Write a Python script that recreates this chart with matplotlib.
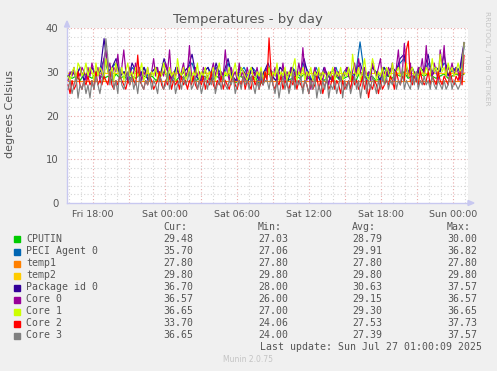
import numpy as np
import matplotlib
matplotlib.use("Agg")
import matplotlib.pyplot as plt

# ---- data (hours since Fri 00:00) ----
T_FIRST, T_LAST = 15.92, 48.92

cputin = [29.0, 28.5, 29.0, 28.0, 29.5, 29.0, 28.5, 30.0, 29.0, 28.5,
          29.0, 28.0, 29.5, 28.5, 29.0, 28.0, 29.0, 28.5, 29.5, 29.0,
          28.5, 29.0, 28.0, 29.0, 30.0, 28.5, 29.0, 28.0, 29.0, 28.5,
          29.5, 29.0, 28.0, 28.5, 29.0, 28.5, 28.0, 29.0, 28.5, 29.0,
          29.5, 28.5, 27.5, 29.0, 28.5, 28.0, 29.0, 28.5, 27.0, 28.5,
          29.5, 29.0, 28.0, 28.5, 29.0, 28.0, 28.5, 29.0, 28.5, 29.5,
          28.5, 28.0, 29.0, 28.5, 28.0, 29.0, 28.5, 29.0, 28.0, 28.5,
          29.0, 28.5, 28.0, 30.0, 29.0, 28.5, 29.0, 28.0, 28.5, 29.0,
          29.0, 28.5, 29.5, 29.0, 30.0, 28.5, 29.0, 28.5, 29.5, 29.0,
          29.5, 29.0, 28.5, 29.0, 29.5, 28.5, 29.0, 29.5, 29.0, 29.48]
peci = [29, 30, 29, 31, 28, 30, 31, 29, 30, 33,
        30, 31, 32, 29, 30, 28, 31, 30, 29, 31,
        29, 30, 31, 29, 32, 30, 28, 31, 29, 30,
        31, 32, 29, 28, 30, 31, 29, 31, 30, 29,
        32, 29, 28, 30, 31, 29, 31, 30, 27.06, 30,
        31, 30, 29, 31, 30, 29, 31, 30, 29, 32,
        30, 28, 31, 29, 30, 29, 30, 31, 28, 30,
        31, 29, 30, 36.82, 30, 29, 31, 30, 29, 31,
        30, 31, 30, 32, 33, 30, 31, 29, 31, 30,
        32, 30, 31, 30, 32, 31, 30, 31, 30, 35.7]
temp1 = [27.8, 27.8]
temp2 = [29.8, 29.8]
package = [29, 30, 29, 31, 28, 30, 31, 29, 30, 37.57,
           30, 31, 33, 29, 30, 28, 32, 30, 29, 31,
           28, 30, 31, 29, 33, 30, 28, 31, 29, 30,
           31, 34, 29, 28, 30, 31, 28, 32, 29, 30,
           33, 29, 28, 31, 30, 28, 31, 29, 28, 30,
           32, 29, 28, 31, 30, 28, 31, 29, 30, 33,
           29, 28, 30, 28, 31, 29, 28, 30, 28, 29,
           31, 28, 30, 32, 29, 28, 31, 30, 28, 31,
           29, 31, 30, 33, 34, 29, 31, 28, 31, 30,
           34, 29, 31, 30, 34, 29, 31, 30, 31, 36.7]
core0 = [28, 30, 29, 31, 28, 30, 29, 31, 30, 28, 31, 29, 32, 30, 29, 31, 28, 30, 33, 35,
         30, 32, 29, 31, 30, 34, 29, 31, 35, 30, 28, 31, 29, 30, 32, 29, 31, 28, 30, 29,
         31, 28, 30, 33, 29, 31, 28, 30, 29, 32, 30, 35, 28, 30, 29, 31, 28, 30, 32, 29,
         30, 36, 29, 28, 31, 29, 30, 28, 31, 30, 29, 28, 30, 32, 29, 31, 28, 30, 29, 35,
         30, 28, 31, 29, 30, 28, 32, 29, 30, 28, 31, 29, 28, 30, 29, 31, 28, 30, 27, 29,
         31, 30, 28, 29, 31, 28, 30, 29, 32, 28, 30, 29, 31, 28, 30, 29, 32, 29, 35.5, 30,
         28, 30, 26, 29, 31, 28, 30, 29, 28, 31, 29, 27, 30, 28, 31, 29, 30, 28, 29, 30,
         31, 29, 28, 30, 32, 29, 33, 30, 28, 31, 29, 30, 28, 32, 30, 29, 31, 33, 28, 30,
         29, 31, 30, 32, 28, 31, 35, 29, 30, 36.5, 31, 29, 32, 28, 30, 29, 31, 30, 33, 29,
         36, 30, 31, 29, 32, 30, 28, 35, 31, 36, 29, 31, 30, 32, 29, 31, 30, 28, 32, 36.57]
core1 = [29, 28, 30, 31, 28, 32, 31, 29, 30, 32, 29, 31, 30, 28, 32, 29, 31, 30, 28, 33,
         30, 29, 31, 28, 32, 30, 29, 31, 28, 30, 32, 29, 30, 28, 31, 29, 30, 32, 28, 29,
         31, 28, 30, 29, 31, 28, 30, 29, 32, 30, 28, 31, 29, 30, 28, 33, 30, 29, 31, 28,
         29, 31, 28, 30, 29, 32, 28, 30, 29, 31, 28, 30, 29, 31, 28, 30, 32, 29, 28, 30,
         29, 31, 28, 30, 32, 29, 28, 31, 30, 29, 28, 30, 31, 29, 28, 30, 29, 31, 28, 30,
         29, 31, 28, 30, 29, 32, 28, 30, 29, 31, 28, 30, 29, 31, 33, 28, 30, 29, 31, 28,
         30, 29, 31, 28, 30, 29, 31, 28, 30, 29, 28, 30, 29, 31, 28, 30, 29, 31, 28, 30,
         29, 31, 28, 34, 30, 29, 31, 28, 30, 33, 29, 28, 30, 33, 31, 28, 30, 29, 31, 28,
         31, 30, 28, 32, 29, 30, 31, 29, 30, 28, 32, 29, 30, 31, 29, 30, 28, 31, 30, 29,
         31, 30, 29, 33, 30, 31, 29, 34, 30, 31, 29, 32, 30, 31, 29, 30, 32, 30, 31, 36.65]
core2 = [27, 25, 28, 26, 27, 30, 27, 26, 28, 27, 29, 27, 28, 26, 30, 27, 28, 27, 29, 28,
         27, 30, 27, 26, 28, 27, 29, 28, 27, 26, 28, 27, 29, 28, 27, 33.8, 28, 27, 26, 28,
         27, 29, 28, 26, 27, 28, 30, 27, 26, 28, 27, 29, 26, 28, 27, 28, 26, 29, 27, 28,
         26, 28, 27, 29, 27, 26, 28, 27, 29, 26, 28, 27, 30, 27, 26, 28, 27, 29, 26, 28,
         27, 26, 28, 29, 27, 26, 28, 27, 29, 26, 28, 27, 26, 29, 27, 28, 26, 28, 27, 30,
         28, 37.73, 30, 27, 26, 28, 27, 29, 26, 28, 27, 26, 28, 27, 29, 26, 28, 27, 26, 28,
         27, 25, 28, 26, 27, 29, 26, 28, 25, 27, 28, 26, 27, 29, 26, 28, 27, 25, 28, 26,
         27, 28, 26, 29, 27, 28, 26, 27, 29, 26, 28, 24.06, 27, 26, 28, 27, 25, 28, 26, 27,
         28, 27, 29, 28, 26, 30, 28, 27, 29, 28, 35, 37, 28, 27, 29, 28, 27, 30, 28, 27,
         28, 30, 27, 29, 28, 27, 30, 28, 27, 29, 28, 27, 30, 28, 27, 29, 28, 30, 27, 33.7]
core3 = [26, 28, 25, 27, 29, 24, 27, 26, 28, 25, 27, 24, 28, 26, 29, 27, 25, 28, 30, 37.57,
         33, 27, 30, 26, 28, 25, 31, 27, 26, 28, 30, 27, 29, 26, 28, 25, 29, 27, 26, 28,
         27, 29, 26, 28, 27, 25, 29, 28, 26, 27, 30, 26, 28, 29, 25, 27, 28, 26, 29, 27,
         28, 30, 26, 27, 29, 26, 28, 25, 27, 29, 26, 28, 27, 30, 25, 27, 28, 26, 29, 27,
         26, 28, 27, 29, 25, 27, 28, 26, 29, 27, 28, 26, 29, 27, 25, 28, 26, 30, 27, 28,
         28, 26, 29, 27, 25, 28, 24, 27, 29, 26, 28, 25, 27, 30, 26, 28, 27, 29, 25, 28,
         27, 25, 28, 26, 29, 24, 27, 25, 28, 26, 29, 24, 27, 26, 28, 25, 27, 29, 24, 28,
         26, 28, 25, 27, 29, 26, 28, 24, 27, 30, 25, 28, 26, 29, 27, 25, 28, 26, 29, 27,
         29, 26, 28, 27, 30, 26, 28, 27, 31, 26, 28, 27, 26, 29, 27, 30, 26, 28, 27, 29,
         27, 28, 26, 29, 27, 26, 28, 27, 26, 28, 26, 27, 29, 26, 28, 27, 26, 27, 29, 36.65]

names = ["CPUTIN", "PECI Agent 0", "temp1", "temp2", "Package id 0",
         "Core 0", "Core 1", "Core 2", "Core 3"]
series = [cputin, peci, temp1, temp2, package, core0, core1, core2, core3]
colors = ["#00CC00", "#0066B3", "#FF8000", "#FFCC00", "#330099",
          "#990099", "#CCFF00", "#FF0000", "#808080"]
cur = ["29.48", "35.70", "27.80", "29.80", "36.70", "36.57", "36.65", "33.70", "36.65"]
mins = ["27.03", "27.06", "27.80", "29.80", "28.00", "26.00", "27.00", "24.06", "24.00"]
avgs = ["28.79", "29.91", "27.80", "29.80", "30.63", "29.15", "29.30", "27.53", "27.39"]
maxs = ["30.00", "36.82", "27.80", "29.80", "37.57", "36.57", "36.65", "37.73", "37.57"]

tick_hours = [18, 24, 30, 36, 42, 48]
tick_labels = ["Fri 18:00", "Sat 00:00", "Sat 06:00", "Sat 12:00", "Sat 18:00", "Sun 00:00"]

BG = "#F0F0F0"
TXT = "#555555"
AXC = "#C8C8F0"
W, H = 497, 371

fig = plt.figure(figsize=(W / 100, H / 100), dpi=100, facecolor=BG)
ax = fig.add_axes([67 / W, 1 - 203 / H, 401 / W, 175 / H])
ax.set_facecolor("white")
ax.set_xlim(15.83, 49.25)
ax.set_ylim(0, 40)

# grid: gray every hour / 2 deg, red every 3 h / 10 deg
for h in range(16, 50):
    major = h % 3 == 0
    ax.axvline(h, color="#E8A8A8" if major else "#D6D6D6", lw=0.8,
               ls=(0, (1, 2)), zorder=1)
for v in range(2, 41, 2):
    major = v % 10 == 0
    ax.axhline(v, color="#E8A8A8" if major else "#D6D6D6", lw=0.8,
               ls=(0, (1, 2)), zorder=1)

for vals, c in zip(series, colors):
    t = np.linspace(T_FIRST, T_LAST, len(vals))
    ax.plot(t, vals, color=c, lw=0.85, zorder=3)

for s in ["top", "right"]:
    ax.spines[s].set_visible(False)
for s in ["left", "bottom"]:
    ax.spines[s].set_color(AXC)
    ax.spines[s].set_linewidth(1.0)
ax.set_xticks(tick_hours)
ax.set_xticklabels(tick_labels)
ax.set_yticks([0, 10, 20, 30, 40])
ax.tick_params(length=0, labelsize=6.8, colors=TXT, pad=5)
ax.tick_params(axis="y", pad=6, labelsize=7.3)

fig.text(10 / W, 1 - 114 / H, "degrees Celsius", rotation=90, ha="center",
         va="center", fontsize=8, color=TXT)

# axis arrows
fig.patches.append(plt.Polygon([[64.5 / W, 1 - 27 / H], [69.5 / W, 1 - 27 / H],
                                 [67 / W, 1 - 21 / H]], closed=True,
                                color=AXC, transform=fig.transFigure))
fig.patches.append(plt.Polygon([[468 / W, 1 - 200.5 / H], [468 / W, 1 - 205.5 / H],
                                 [474 / W, 1 - 203 / H]], closed=True,
                                color=AXC, transform=fig.transFigure))

fig.text(248 / W, 1 - 19 / H, "Temperatures - by day", ha="center", va="center",
         fontsize=9.5, color=TXT)
fig.text(487 / W, 1 - 58 / H, "RRDTOOL / TOBI OETIKER", ha="center", va="center",
         rotation=270, fontsize=5.3, color="#C4C4C4")

# legend table
mono = dict(family="DejaVu Sans Mono", fontsize=7.1, color=TXT, va="center")
row0 = 227.5
for xpx, head in zip([163, 258, 352, 447], ["Cur:", "Min:", "Avg:", "Max:"]):
    fig.text(xpx / W, 1 - row0 / H, head, ha="left", **mono)
for i, name in enumerate(names):
    y = 1 - (row0 + 12 * (i + 1)) / H
    fig.patches.append(plt.Rectangle((14 / W, y - 3 / H), 6 / W, 6 / H,
                                     color=colors[i], transform=fig.transFigure))
    fig.text(26.5 / W, y, name, ha="left", **mono)
    for xpx, col in zip([163, 258, 352, 447], [cur, mins, avgs, maxs]):
        fig.text(xpx / W, y, col[i], ha="left", **mono)
fig.text(482 / W, 1 - 347 / H, "Last update: Sun Jul 27 01:00:09 2025",
         ha="right", **mono)
fig.text(248 / W, 1 - 360 / H, "Munin 2.0.75", ha="center", va="center",
         fontsize=5.5, color="#C4C4C4")

fig.savefig("out.png", dpi=100, facecolor=BG)
